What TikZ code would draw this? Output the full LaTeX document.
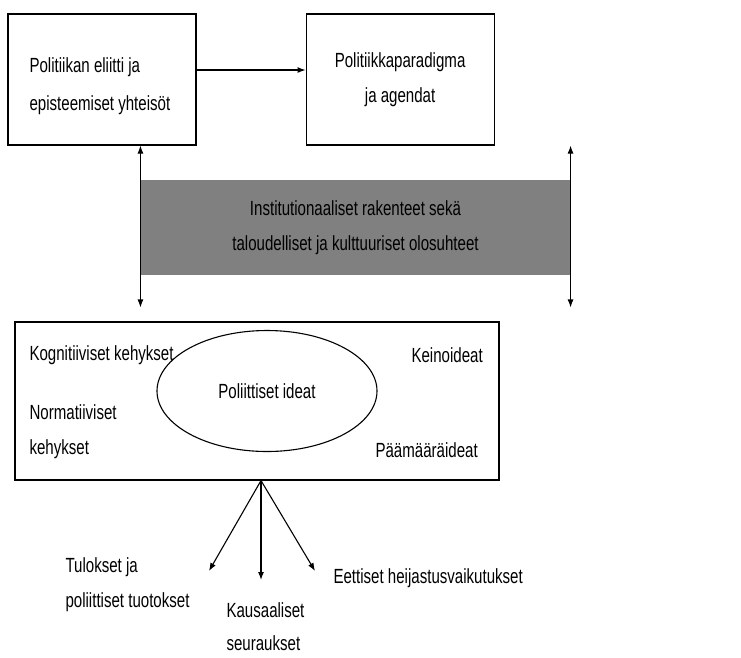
\documentclass[tikz,border=0pt]{standalone}
\usepackage{fontspec}
\setmainfont{Liberation Sans}[FakeStretch=0.735]
\usetikzlibrary{positioning,shapes.geometric,arrows.meta}

\begin{document}
\begin{tikzpicture}[x=1pt,y=-1pt,>={Latex[length=8pt,width=6pt]},line width=1.1pt,
	every node/.style={font=\fontsize{20.5}{35}\selectfont},
	box/.style={draw,minimum width=188pt,minimum height=131pt},
	txt/.style={anchor=west,align=left,inner sep=0pt}]
    \useasboundingbox (0,0) rectangle (741,657);
    % create the nodes
    \node[box] (elite) at (102,79.5) {};
    \node[box,align=center,right=109pt of elite] (paradigm) {Politiikkaparadigma\\ja agendat};
    \node[txt,font=\fontsize{20.5}{38}\selectfont] (elitetext) at (29,86) {Politiikan eliitti ja\\episteemiset yhteisöt};
    \node[fill=gray,minimum width=429pt,minimum height=95pt,align=center] (band) at (355.5,227.5)
        {Institutionaaliset rakenteet sekä\\taloudelliset ja kulttuuriset olosuhteet};
    \node[draw,minimum width=484pt,minimum height=158pt] (frame) at (257,401) {};
    \node[txt] (cognitive) at (29,355) {Kognitiiviset kehykset};
    \node[txt] (normative) at (29,432) {Normatiiviset\\kehykset};
    \node[txt] (means) at (411,355) {Keinoideat};
    \node[txt] (goals) at (375,450) {Päämääräideat};
    \node[draw,ellipse,minimum width=220pt,minimum height=121pt,inner sep=0pt] (ideas) at (267,391) {Poliittiset ideat};
    \node[txt] (outputs) at (65,585) {Tulokset ja\\poliittiset tuotokset};
    \node[txt,font=\fontsize{20.5}{33}\selectfont] (causal) at (226,627) {Kausaaliset\\seuraukset};
    \node[txt] (ethical) at (333,578) {Eettiset heijastusvaikutukset};
    \coordinate (hub) at ([xshift=4pt]frame.south);
    \coordinate (outtip) at (209,571);
    \coordinate (causaltip) at (261,580);
    \coordinate (ethictip) at (315,571);
    % connect the nodes
    \draw[->] ([yshift=9.5pt]elite.east) -- ([yshift=9.5pt]paradigm.west);
    \draw[<->,shorten <=14pt] (frame.north -| band.west) -- (elite.south -| band.west);
    \draw[<->,shorten <=14pt] (frame.north -| band.east) -- (paradigm.south -| band.east);
    \foreach \tip in {outtip,causaltip,ethictip}
        \draw[->] (hub) -- (\tip);
\end{tikzpicture}
\end{document}
